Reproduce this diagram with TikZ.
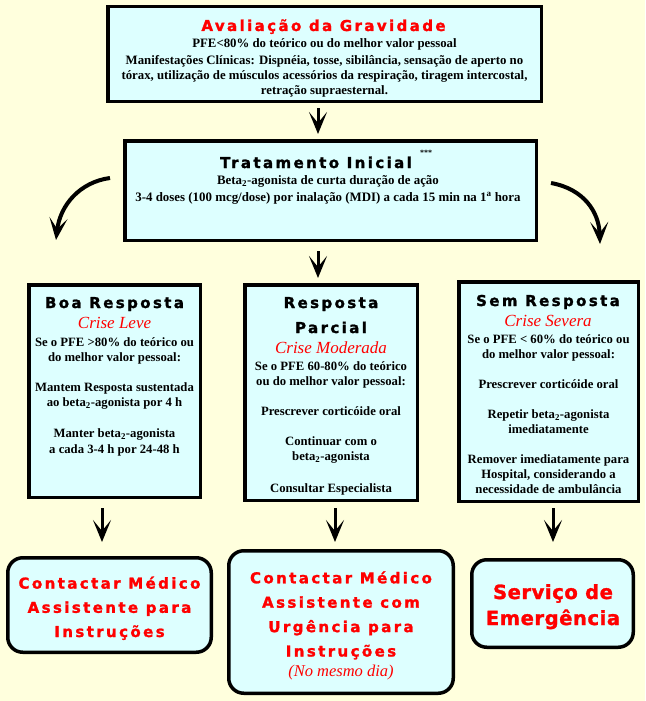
\documentclass[tikz,border=0pt]{standalone}
\usepackage{fontspec}
\setmainfont{Liberation Serif}
\newfontfamily\headfont[LetterSpace=16,FakeBold=1.5]{DejaVu Sans Bold}
\newfontfamily\bigheadfont[LetterSpace=3,FakeBold=1.5]{DejaVu Sans Bold}
\usetikzlibrary{arrows.meta}
\definecolor{bgyellow}{RGB}{255,255,221}
\definecolor{boxcyan}{RGB}{221,255,255}
\definecolor{titlered}{RGB}{255,0,0}

\begin{document}
\begin{tikzpicture}[x=1pt,y=-1pt,
  box/.style={draw,line width=3.5pt,fill=boxcyan,inner sep=0pt},
  roundbox/.style={box,rounded corners=15pt},
  head/.style={font=\headfont\fontsize{15}{25}\selectfont,align=center,inner sep=0pt,anchor=base},
  body/.style={font=\bfseries\fontsize{12.7}{15.2}\selectfont,align=center,inner sep=0pt,anchor=base},
  crise/.style={font=\itshape\fontsize{17}{20}\selectfont,text=titlered,inner sep=0pt,anchor=base},
  arr/.style={line width=3pt,-{Stealth[length=22pt,width=18pt,inset=11pt]}},
  bendarr/.style={line width=4pt,-{Stealth[length=22pt,width=18pt,inset=11pt]}}]
\fill[bgyellow] (0,0) rectangle (645,701);

% boxes
\node[box,minimum width=433.5pt,minimum height=94.5pt] (grav) at (324.5,54) {};
\node[box,minimum width=411.5pt,minimum height=99.5pt] (trat) at (330.5,190.5) {};
\node[box,minimum width=171.5pt,minimum height=212.5pt] (boa) at (114.5,391) {};
\node[box,minimum width=172.5pt,minimum height=215.5pt] (parc) at (331,392.5) {};
\node[box,minimum width=179.5pt,minimum height=219.5pt] (sem) at (548.5,391.5) {};
\node[roundbox,minimum width=203.5pt,minimum height=94.5pt] (contL) at (109.5,605) {};
\node[roundbox,minimum width=224.5pt,minimum height=142.5pt] (contM) at (341,622) {};
\node[roundbox,minimum width=161.5pt,minimum height=87.5pt] (emerg) at (552.5,603.5) {};

% Avaliacao da Gravidade (base = last line)
\node[head,text=titlered] (gravtitle) at (323.5,31) {Avaliação da Gravidade};
\node[body,font=\bfseries\fontsize{12.8}{15}\selectfont] (gravtext) at (324.5,94) {PFE<80\% do teórico ou do melhor valor pessoal\\[1.5pt]
  Manifestações Clínicas: Dispnéia, tosse, sibilância, sensação de aperto no\\
  tórax, utilização de músculos acessórios da respiração, tiragem intercostal,\\
  retração supraesternal.};

% Tratamento Inicial
\node[head] (trattitle) at (316,168) {Tratamento Inicial};
\node[font=\bfseries\fontsize{8}{8}\selectfont,inner sep=0pt] (stars) at (426,153) {***};
\node[body,font=\bfseries\fontsize{12.9}{16.5}\selectfont] (trattext) at (328,201)
  {Beta\textsubscript{2}-agonista de curta duração de ação\\
  3-4 doses (100 mcg/dose) por inalação (MDI) a cada 15 min na 1\textsuperscript{a} hora};

% Boa Resposta
\node[head] (boatitle) at (114.5,308) {Boa Resposta};
\node[crise] (boacrise) at (114.5,328) {Crise Leve};
\node[body] (boatext) at (114.5,453) {Se o PFE >80\% do teórico ou\\
  do melhor valor pessoal:\\[15pt]
  Mantem Resposta sustentada\\
  ao beta\textsubscript{2}-agonista por 4 h\\[16pt]
  Manter beta\textsubscript{2}-agonista\\
  a cada 3-4 h por 24-48 h};

% Resposta Parcial
\node[head] (parctitle) at (331,333) {Resposta\\Parcial};
\node[crise] (parccrise) at (331,353) {Crise Moderada};
\node[body] (parctext) at (331,492) {Se o PFE 60-80\% do teórico\\
  ou do melhor valor pessoal:\\[15pt]
  Prescrever corticóide oral\\[15pt]
  Continuar com o\\
  beta\textsubscript{2}-agonista\\[16pt]
  Consultar Especialista};

% Sem Resposta
\node[head] (semtitle) at (548,306) {Sem Resposta};
\node[crise] (semcrise) at (548,326) {Crise Severa};
\node[body,font=\bfseries\fontsize{12.7}{14.8}\selectfont] (semtext) at (548.5,493.5) {Se o PFE < 60\% do teórico ou\\
  do melhor valor pessoal:\\[15pt]
  Prescrever corticóide oral\\[15pt]
  Repetir beta\textsubscript{2}-agonista\\
  imediatamente\\[16pt]
  Remover imediatamente para\\
  Hospital, considerando a\\
  necessidade de ambulância};

% bottom boxes
\node[head,text=titlered,font=\headfont\fontsize{15}{24.2}\selectfont] (contLtext) at (109.5,637)
  {Contactar Médico\\Assistente para\\Instruções};
\node[head,text=titlered,font=\headfont\fontsize{15}{24.4}\selectfont] (contMtext) at (341,656.5)
  {Contactar Médico\\Assistente com\\Urgência para\\Instruções};
\node[crise,font=\itshape\fontsize{16.5}{16.5}\selectfont] (mesmo) at (341,676) {(No mesmo dia)};
\node[head,text=titlered,font=\bigheadfont\fontsize{19.5}{26}\selectfont] (emergtext) at (553,625)
  {Serviço de\\Emergência};

% arrows
\draw[arr,shorten <=5pt,shorten >=5pt] ([xshift=-6.5pt]grav.south) -- ([xshift=-6.5pt]grav.south |- trat.north);
\draw[arr,shorten <=9pt,shorten >=5pt] ([xshift=-12.5pt]trat.south) -- ([xshift=-12.5pt]trat.south |- parc.north);
\coordinate (lstart) at (110,178);
\coordinate (lend) at (56,240);
\coordinate (rstart) at (551,183);
\coordinate (rend) at (600,244);
\draw[bendarr] (lstart) .. controls (80,182) and (60,205) .. (lend);
\draw[bendarr] (rstart) .. controls (584,189) and (599,212) .. (rend);
\draw[arr,shorten <=9pt,shorten >=14pt] ([xshift=-12.5pt]boa.south) -- ([xshift=-12.5pt]boa.south |- contL.north);
\draw[arr,shorten <=6pt,shorten >=7pt] ([xshift=4pt]parc.south) -- ([xshift=4pt]parc.south |- contM.north);
\draw[arr,shorten <=5pt,shorten >=16pt] ([xshift=4.5pt]sem.south) -- ([xshift=4.5pt]sem.south |- emerg.north);
\end{tikzpicture}
\end{document}
